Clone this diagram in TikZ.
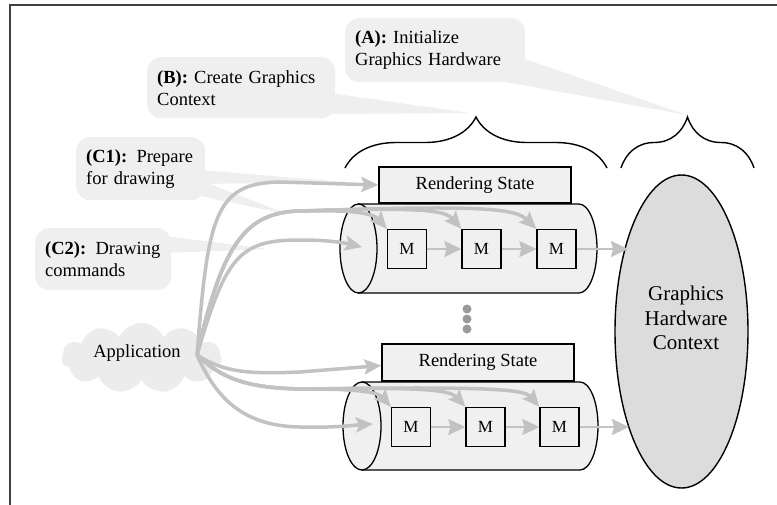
\documentclass[tikz,border=0pt]{standalone}
\usepackage{fontspec}
\setmainfont{Liberation Serif}
\usetikzlibrary{arrows.meta,shapes.geometric,shapes.symbols,decorations.pathreplacing}
\definecolor{callgray}{HTML}{EFEFEF}
\definecolor{cloudgray}{HTML}{ECECEC}
\definecolor{boxgray}{HTML}{F0F0F0}
\definecolor{hwgray}{HTML}{DCDCDC}
\definecolor{arrgray}{HTML}{C2C2C2}
\definecolor{dotgray}{HTML}{9A9A9A}
\begin{document}
\begin{tikzpicture}[x=1pt,y=-1pt,
  every node/.style={font=\fontsize{18.5}{22}\selectfont},
  callout/.style={fill=callgray, rounded corners=14pt, align=left, inner xsep=10pt, inner ysep=0pt, anchor=north west},
  rsbox/.style={draw, line width=1.3pt, fill=boxgray, minimum width=192pt, minimum height=36pt, inner sep=0pt},
  mbox/.style={draw, line width=1.3pt, fill=boxgray, minimum size=39pt, inner sep=0pt, font=\fontsize{17}{20}\selectfont},
  cylpart/.style={draw, line width=1.3pt, fill=boxgray},
  hwell/.style={ellipse, draw, line width=1.4pt, fill=hwgray, minimum width=133pt, minimum height=313pt, inner sep=0pt},
  brc/.style={draw, line width=1.4pt, decorate, decoration={brace, amplitude=51pt}},
  garr/.style={draw=arrgray, line width=3.5pt, -{Stealth[length=17pt,width=15pt,inset=3pt]}},
  marr/.style={draw=arrgray, line width=2pt, -{Stealth[length=17pt,width=16pt,inset=2pt]}},
  appcloud/.style={cloud, cloud puffs=11, cloud puff arc=130, aspect=2.3, fill=cloudgray, minimum width=160pt, minimum height=70pt, inner sep=0pt},
  dotstyle/.style={fill=dotgray}
]
\useasboundingbox (0,0) rectangle (777,504);
\clip (0,0) rectangle (777,504);
% frame
\draw[line width=1.6pt, black!75] (10,5) rectangle (800,530);

% callout pointers
\fill[callgray] (505,52) -- (687,115) -- (495,80) -- cycle;
\fill[callgray] (330,93) -- (470,113) -- (330,114) -- cycle;
\fill[callgray] (200,170) -- (345,182) -- (200,184) -- cycle;
\fill[callgray] (200,180) -- (287,214) -- (200,196) -- cycle;
\fill[callgray] (165,236) -- (268,249) -- (165,253) -- cycle;

% callouts
\node[callout, text width=160pt, minimum height=64pt] (ca) at (345,18) {\textbf{(A):} Initialize\\Graphics Hardware};
\node[callout, text width=168pt, minimum height=61pt] (cb) at (147,57) {\textbf{(B):} Create Graphics\\Context};
\node[callout, text width=109pt, minimum height=63pt] (cc1) at (76,137) {\textbf{(C1):} Prepare\\for drawing};
\node[callout, text width=116pt, minimum height=62pt] (cc2) at (35,228) {\textbf{(C2):} Drawing\\commands};

% braces
\coordinate (b1l) at (345,168);
\coordinate (b1r) at (607,168);
\coordinate (b2l) at (621,168);
\coordinate (b2r) at (754,168);
\draw[brc] (b1l) -- (b1r);
\draw[brc] (b2l) -- (b2r);

% top cylinder
\path[cylpart] (358.5,204) -- (579,204) .. controls (588.9,204) and (597,223.9) .. (597,248.5) .. controls (597,273.1) and (588.9,293) .. (579,293) -- (358.5,293) -- cycle;
\draw[cylpart] (358.5,248.5) ellipse [x radius=18.5, y radius=44.5];
% bottom cylinder
\path[cylpart] (362,382) -- (580,382) .. controls (589.9,382) and (598,401.7) .. (598,426) .. controls (598,450.3) and (589.9,470) .. (580,470) -- (362,470) -- cycle;
\draw[cylpart] (362,426) ellipse [x radius=19, y radius=44];

% rendering states
\node[rsbox] (rs1) at (475,185) {Rendering State};
\node[rsbox, minimum height=37pt] (rs2) at (478,362.5) {Rendering State};

% M boxes
\node[mbox] (m11) at (407,249) {M};
\node[mbox] (m12) at (481.5,249) {M};
\node[mbox] (m13) at (556.5,249) {M};
\node[mbox] (m21) at (411,427) {M};
\node[mbox] (m22) at (485.5,427) {M};
\node[mbox] (m23) at (559.5,427) {M};

% hardware context
\node[hwell] (hw) at (681.5,331.5) {};
\node[font=\fontsize{21}{24.5}\selectfont, align=center] (hwtext) at (686,318) {Graphics\\Hardware\\Context};

% dots
\fill[dotstyle] (467,309) circle[radius=4.5];
\fill[dotstyle] (467,319) circle[radius=4.5];
\fill[dotstyle] (467,329) circle[radius=4.5];

% application
\node[appcloud] (app) at (141.5,358) {};
\node (apptext) at (137,353) {Application};
\coordinate (ao) at (197,355);

% M chain arrows
\coordinate (hin1) at (628,249);
\coordinate (hin2) at (629,427);
\draw[marr] (m11) -- (m12);
\draw[marr] (m12) -- (m13);
\draw[marr] (m13.east) -- (hin1);
\draw[marr] (m21) -- (m22);
\draw[marr] (m22) -- (m23);
\draw[marr] (m23.east) -- (hin2);

% application arrows, top
\coordinate (cy1) at (362,247);
\coordinate (cy2) at (373,424);
\draw[garr] (ao) .. controls (208,215) and (215,183) .. (280,182) -- (rs1.west);
\draw[garr] (ao) .. controls (222,245) and (245,212) .. (300,211) .. controls (480,205) and (515,208) .. (m13.north west);
\draw[garr] (ao) .. controls (222,245) and (245,212) .. (300,211) .. controls (420,207) and (445,210) .. (m12.north west);
\draw[garr] (ao) .. controls (222,245) and (245,212) .. (300,211) .. controls (345,210) and (372,212) .. (m11.north west);
\draw[garr] (ao) .. controls (226,255) and (240,240) .. (300,240) .. controls (330,240) and (345,243) .. (cy1);

% application arrows, bottom
\draw[garr] (ao) .. controls (225,373) and (250,374) .. (300,372) -- ([yshift=-3pt]rs2.west);
\draw[garr] (ao) .. controls (225,382) and (255,389) .. (310,389) .. controls (500,386) and (525,390) .. (m23.north west);
\draw[garr] (ao) .. controls (225,382) and (255,389) .. (310,389) .. controls (425,387) and (450,390) .. (m22.north west);
\draw[garr] (ao) .. controls (225,382) and (255,389) .. (310,389) .. controls (355,389) and (378,392) .. (m21.north west);
\draw[garr] (ao) .. controls (215,395) and (240,426) .. (300,427) .. controls (335,428) and (355,425) .. (cy2);
\end{tikzpicture}
\end{document}
